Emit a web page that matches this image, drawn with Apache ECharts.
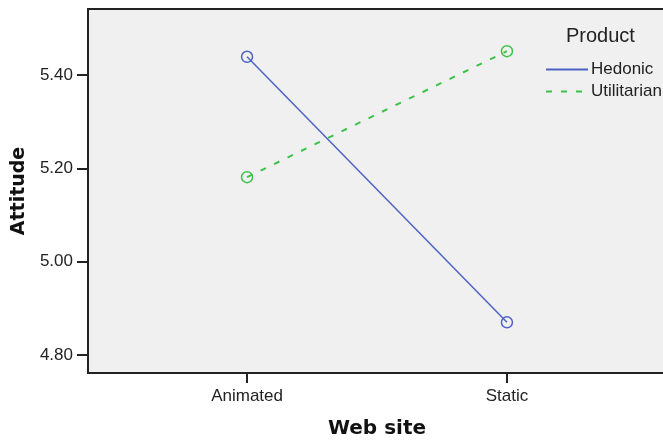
<!DOCTYPE html>
<html><head><meta charset="utf-8">
<script src="https://cdn.jsdelivr.net/npm/echarts@6/dist/echarts.min.js"></script>
<style>html,body{margin:0;padding:0;background:#fff}#c{width:663px;height:440px}</style>
</head><body><div id="c"></div>
<script>
const categories = ['Animated', 'Static'];
const hedonic = [5.439, 4.870];
const utilitarian = [5.181, 5.451];
const yTicks = [4.8, 5.0, 5.2, 5.4];
const seriesNames = ['Hedonic', 'Utilitarian'];

const blue = '#4d62c4';
const green = '#3cc24a';
const chart = echarts.init(document.getElementById('c'));
const toPts = arr => arr.map((v, i) => [i, v]);
chart.setOption({
  animation: false,
  backgroundColor: '#fff',
  title: {
    text: 'Product', left: 561, top: 21,
    textStyle: { fontFamily: 'Liberation Sans', fontSize: 20, fontWeight: 'normal', color: '#222' }
  },
  legend: {
    orient: 'vertical', left: 540, top: 56, itemWidth: 42, itemHeight: 14, itemGap: 5,
    data: seriesNames,
    itemStyle: { opacity: 0 },
    textStyle: { fontFamily: 'Liberation Sans', fontSize: 17, color: '#222', padding: [0, 0, 0, -2] }
  },
  grid: {
    left: 88, top: 9, width: 578, height: 364, show: true,
    outerBoundsMode: 'none', containLabel: false,
    backgroundColor: '#f0f0f0', borderColor: '#222', borderWidth: 2
  },
  xAxis: {
    type: 'value', min: -0.612, max: 1.612,
    name: 'Web site', nameLocation: 'middle', nameGap: 46,
    nameTextStyle: { fontFamily: 'DejaVu Sans', fontSize: 20, fontWeight: 'bold', color: '#111' },
    axisLine: { show: true, onZero: false, lineStyle: { color: '#222', width: 2 } },
    axisTick: { show: true, length: 10, lineStyle: { color: '#222', width: 2 }, customValues: [0, 1] },
    axisLabel: {
      customValues: [0, 1], margin: 15,
      formatter: v => categories[Math.round(v)] || '',
      fontFamily: 'Liberation Sans', fontSize: 17, color: '#222'
    },
    splitLine: { show: false }
  },
  yAxis: {
    type: 'value', min: 4.7614, max: 5.5414,
    name: 'Attitude', nameLocation: 'middle', nameGap: 57,
    nameTextStyle: { fontFamily: 'DejaVu Sans', fontSize: 19, fontWeight: 'bold', color: '#111' },
    axisLine: { show: true, onZero: false, lineStyle: { color: '#222', width: 2 } },
    axisTick: { show: true, length: 11, lineStyle: { color: '#222', width: 2 }, customValues: yTicks },
    axisLabel: {
      customValues: yTicks, margin: 15,
      formatter: v => v.toFixed(2),
      fontFamily: 'Liberation Sans', fontSize: 17, color: '#222'
    },
    splitLine: { show: false }
  },
  series: [
    {
      name: seriesNames[0], type: 'line', data: toPts(hedonic),
      symbol: 'circle', symbolSize: 11,
      lineStyle: { color: blue, width: 1.5 },
      itemStyle: { color: 'rgba(0,0,0,0)', borderColor: blue, borderWidth: 1.5 }
    },
    {
      name: seriesNames[1], type: 'line', data: toPts(utilitarian),
      symbol: 'circle', symbolSize: 11,
      lineStyle: { color: green, width: 2, type: [6, 9] },
      itemStyle: { color: 'rgba(0,0,0,0)', borderColor: green, borderWidth: 1.5 }
    }
  ]
});
</script></body></html>
